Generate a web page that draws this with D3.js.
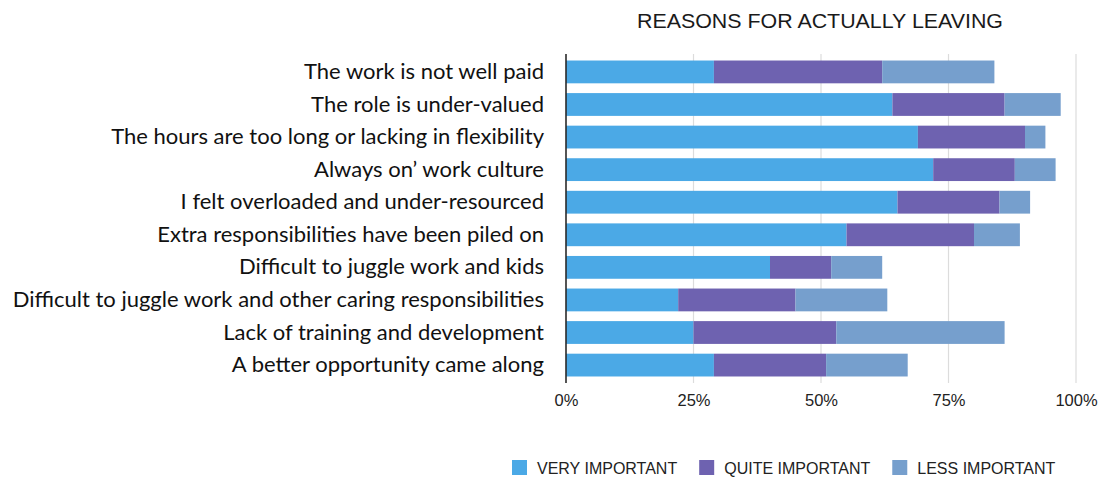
<!DOCTYPE html>
<html>
<head>
<meta charset="utf-8">
<script src="https://cdn.jsdelivr.net/npm/d3@7"></script>
<style>
  body { margin: 0; background: #fff; }
  svg { display: block; }
</style>
</head>
<body>
<svg id="chart" width="1108" height="477"></svg>
<script>
const categories = [
  "The work is not well paid",
  "The role is under-valued",
  "The hours are too long or lacking in flexibility",
  "Always on\u2019 work culture",
  "I felt overloaded and under-resourced",
  "Extra responsibilities have been piled on",
  "Difficult to juggle work and kids",
  "Difficult to juggle work and other caring responsibilities",
  "Lack of training and development",
  "A better opportunity came along"
];
const veryImportant  = [29, 64, 69, 72, 65, 55, 40, 22, 25, 29];
const quiteImportant = [33, 22, 21, 16, 20, 25, 12, 23, 28, 22];
const lessImportant  = [22, 11,  4,  8,  6,  9, 10, 18, 33, 16];
const seriesNames = ["VERY IMPORTANT", "QUITE IMPORTANT", "LESS IMPORTANT"];
const seriesColors = ["#4BA9E6", "#6E62B0", "#769FCD"];
const tickValues = [0, 25, 50, 75, 100];
const tickLabels = ["0%", "25%", "50%", "75%", "100%"];
const title = "REASONS FOR ACTUALLY LEAVING";

const svg = d3.select("#chart");
const x = d3.scaleLinear().domain([0, 100]).range([566, 1076]);
const y = d3.scaleBand().domain(categories).range([54, 383]).paddingInner(0.3).paddingOuter(0.2);

const rows = categories.map((c, i) => ({
  cat: c,
  [seriesNames[0]]: veryImportant[i],
  [seriesNames[1]]: quiteImportant[i],
  [seriesNames[2]]: lessImportant[i]
}));
const stacked = d3.stack().keys(seriesNames)(rows);

// gridlines
svg.append("g").selectAll("line").data(tickValues.slice(1)).join("line")
  .attr("x1", d => x(d)).attr("x2", d => x(d))
  .attr("y1", 54).attr("y2", 383)
  .attr("stroke", "#dcdcdc").attr("stroke-width", 1.2);

// bars
svg.append("g").selectAll("g").data(stacked).join("g")
  .attr("fill", (d, i) => seriesColors[i])
  .selectAll("rect").data(d => d).join("rect")
  .attr("x", d => x(d[0]))
  .attr("width", d => x(d[1]) - x(d[0]))
  .attr("y", d => y(d.data.cat))
  .attr("height", y.bandwidth());

// zero axis line
svg.append("line")
  .attr("x1", x(0)).attr("x2", x(0)).attr("y1", 54).attr("y2", 383)
  .attr("stroke", "#2a2a2a").attr("stroke-width", 1.6);

// x axis tick labels
const xAxis = d3.axisBottom(x).tickValues(tickValues)
  .tickFormat((d, i) => tickLabels[i]).tickSize(0).tickPadding(0);
const gx = svg.append("g").attr("transform", "translate(0,394.5)").call(xAxis);
gx.select(".domain").remove();
gx.selectAll("text")
  .attr("font-family", "'Liberation Sans', Arial, sans-serif")
  .attr("font-size", 16.5).attr("fill", "#222");

// y axis category labels
const yAxis = d3.axisLeft(y).tickSize(0).tickPadding(22);
const gy = svg.append("g").attr("transform", `translate(${x(0)},0)`).call(yAxis);
gy.select(".domain").remove();
gy.selectAll("text")
  .attr("font-family", "Lato, 'Open Sans', sans-serif")
  .attr("font-size", 22).attr("fill", "#111");

// title
svg.append("text")
  .attr("x", 637).attr("y", 28)
  .attr("font-family", "'Liberation Sans', Arial, sans-serif")
  .attr("font-size", 21).attr("fill", "#1a1a1a")
  .attr("textLength", 366).attr("lengthAdjust", "spacingAndGlyphs")
  .text(title);

// legend (laid out sequentially)
const lg = svg.append("g").attr("transform", "translate(512,460)");
let cursor = 0;
seriesNames.forEach((name, i) => {
  const g = lg.append("g").attr("transform", `translate(${cursor},0)`);
  g.append("rect").attr("width", 15).attr("height", 15).attr("fill", seriesColors[i]);
  const t = g.append("text").attr("x", 25).attr("y", 13.5)
    .attr("font-family", "'Liberation Sans', Arial, sans-serif")
    .attr("font-size", 16).attr("fill", "#222")
    .text(name);
  cursor += 25 + t.node().getComputedTextLength() + 22;
});
</script>
</body>
</html>
